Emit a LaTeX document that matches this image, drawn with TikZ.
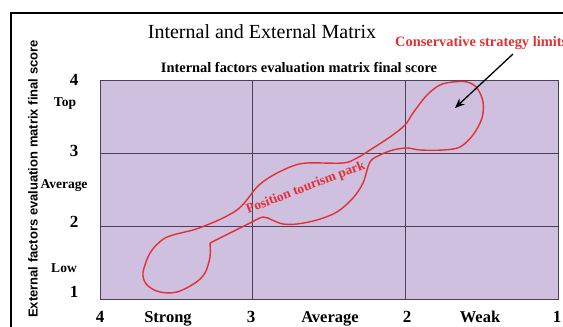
\documentclass[tikz,border=0pt]{standalone}
\usepackage{fontspec}
\setmainfont{Liberation Serif}
\setsansfont{Liberation Sans}
\usepackage{tikz}
\usetikzlibrary{arrows.meta}
\definecolor{matrixfill}{RGB}{206,192,222}
\definecolor{gridline}{RGB}{72,66,88}
\definecolor{limitred}{RGB}{228,48,52}
\newcommand{\fs}[1]{\fontsize{#1}{#1}\selectfont}
\tikzset{
  num/.style    = {font=\bfseries\fs{17}, anchor=base, inner sep=0pt},
  rowlab/.style = {font=\bfseries\fs{13.5}, anchor=base, inner sep=0pt},
  collab/.style = {font=\bfseries\fs{16.5}, anchor=base, inner sep=0pt},
  hint/.style   = {font=\bfseries\fs{14.4}, text=limitred, inner sep=0pt},
  zone/.style   = {draw=limitred, line width=1.4pt, line join=round},
  cellline/.style = {draw=gridline, line width=0.6pt},
}

\begin{document}
\begin{tikzpicture}[x=1pt, y=1pt]
  \useasboundingbox (0,0) rectangle (563,327);
  \draw[line width=1.5pt] (11,0) -- (11,314) -- (563,314);

  % matrix cells
  \fill[matrixfill] (100,28) rectangle (558,247);
  \draw[cellline] (100,28) rectangle (558,247);
  \foreach \x in {252,405}
    \draw[cellline] (\x,28) -- (\x,247);
  \foreach \y in {101,174}
    \draw[cellline] (100,\y) -- (558,\y);

  % titles
  \node[font=\fs{20}, anchor=base, inner sep=0pt] (title) at (262,288)
    {Internal and External Matrix};
  \node[font=\bfseries\fs{14.4}, anchor=base, inner sep=0pt] (ife) at (299,254)
    {Internal factors evaluation matrix final score};
  \node[hint, anchor=base west] (limits) at (395,280) {Conservative strategy limits};
  \node[font=\sffamily\bfseries\fs{13}, rotate=90, inner sep=0pt] (efe) at (33,148)
    {External factors evaluation matrix final score};

  % axis scores and classes
  \foreach \n/\y in {4/241,3/170,2/99,1/29}
    \node[num] (e\n) at (74,\y) {\n};
  \foreach \n/\x in {4/100,3/251,2/407,1/557}
    \node[num] (i\n) at (\x,4) {\n};
  \node[rowlab] (top) at (65,220) {Top};
  \node[rowlab] (eavg) at (64,138) {Average};
  \node[rowlab] (low) at (64,54) {Low};
  \node[collab] (strong) at (168,4) {Strong};
  \node[collab] (iavg) at (330,4) {Average};
  \node[collab] (weak) at (480,4) {Weak};

  % position of the tourism park
  \draw[zone] plot[smooth, tension=0.55] coordinates {
    (210,84) (210,70) (205,54) (195,44) (177,35) (160,35) (147,42) (143,54)
    (150,74) (162,87) (173,92) (193,97) (207,102) (223,109) (237,117)
    (246,126) (257,140) (270,150) (290,160) (307,164) (343,164) (357,169)
    (370,177) (390,190) (405,202) (413,214) (427,232) (440,242) (453,245)
    (467,245) (477,239) (483,225) (482,209) (473,192) (460,180) (443,177)
    (420,177) (407,179) (393,177) (380,172) (370,165) (363,144) (353,129)
    (337,115) (317,107) (297,103) (283,103) (272,107) (263,110) (250,104)
    (230,94) (210,84)};
  \node[hint, font=\bfseries\fs{13.5}, anchor=base, rotate=21] (park) at (307,136)
    {Position tourism park};

  \coordinate (tail) at (513,273);
  \coordinate (tip) at (455,219);
  \draw[-{Stealth[length=3.4mm, width=2.8mm]}, line width=1.3pt] (tail) -- (tip);
\end{tikzpicture}
\end{document}
